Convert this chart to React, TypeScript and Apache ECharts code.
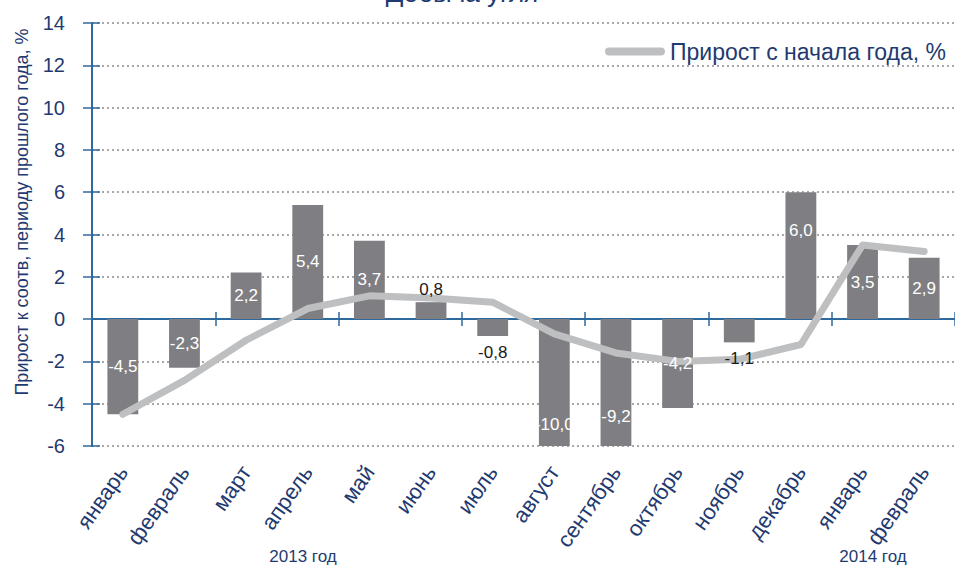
import React, { useEffect, useRef } from "react";
import * as echarts from "echarts";

const months = ["январь", "февраль", "март", "апрель", "май", "июнь", "июль", "август", "сентябрь", "октябрь", "ноябрь", "декабрь", "январь", "февраль"];
const yoyGrowth = [-4.5, -2.3, 2.2, 5.4, 3.7, 0.8, -0.8, -10.0, -9.2, -4.2, -1.1, 6.0, 3.5, 2.9];
const ytdGrowth = [-4.5, -2.9, -1.0, 0.5, 1.1, 1.0, 0.8, -0.7, -1.6, -2.0, -1.9, -1.2, 3.5, 3.2];
const yearLabels = ["2013 год", "2014 год"];
const titleText = "Добыча угля";
const barName = "Прирост к соотв. периоду прошлого года, %";
const lineName = "Прирост с начала года, %";
const yAxisName = "Прирост к соотв, периоду прошлого года, %";
const yMin = -6;
const yMax = 14;
const yStep = 2;

const NAVY = "#1F3A70";
const AXIS = "#2F6A9E";
const BAR = "#7F7F83";
const LINE = "#BEBFC1";
const GRID = "#8C8C8C";
const SANS = "'Liberation Sans', Arial, sans-serif";

const W = 955;
const H = 569;
const G_LEFT = 92;
const G_RIGHT = -5;
const G_TOP = 23;
const G_BOTTOM = 123;

const fmt = (v: number) => v.toFixed(1).replace(".", ",");

export default function App() {
  const ref = useRef<HTMLDivElement>(null);

  useEffect(() => {
    if (!ref.current) return;
    const chart = echarts.init(ref.current, undefined, { renderer: "svg" });
    const pxPerUnit = (H - G_TOP - G_BOTTOM) / (yMax - yMin);

    const labelData = yoyGrowth.map((v, i) => {
      const small = Math.abs(v) < 1.5;
      const label: any = small
        ? { position: v >= 0 ? "top" : "bottom", color: "#1a1a1a", distance: v >= 0 ? 4 : 8 }
        : { position: "inside", color: "#ffffff" };
      if (v < yMin) {
        // bar is clipped at the axis minimum; keep label at center of the full bar
        const fullCenter = v / 2;
        const clippedCenter = yMin / 2;
        label.offset = [0, (clippedCenter - fullCenter) * pxPerUnit];
      }
      if (i === 11) label.offset = [0, -25];
      return { value: v, label };
    });

    const option: any = {
      animation: false,
      grid: { left: G_LEFT, right: G_RIGHT, top: G_TOP, bottom: G_BOTTOM, containLabel: false },
      legend: {
        data: [lineName],
        right: 4,
        top: 35,
        itemWidth: 60,
        itemHeight: 8,
        icon: "path://M4,0 H56 A4,4 0 0 1 56,8 H4 A4,4 0 0 1 4,0 Z",
        textStyle: { color: NAVY, fontSize: 23, fontFamily: SANS },
      },
      xAxis: [
        {
          type: "category",
          data: months,
          position: "bottom",
          axisLine: { show: false, onZero: false },
          axisTick: { show: false },
          axisLabel: { rotate: 55, margin: 22, fontSize: 22, color: NAVY, fontFamily: SANS, interval: 0 },
        },
        {
          type: "category",
          data: months,
          position: "bottom",
          axisLine: { show: true, onZero: true, onZeroAxisIndex: 0, lineStyle: { color: AXIS, width: 2 } },
          axisTick: { show: true, length: 7, lineStyle: { color: AXIS, width: 1.5 } },
          axisLabel: { show: false },
        },
        {
          type: "category",
          data: months,
          position: "top",
          axisLine: { show: false, onZero: true, onZeroAxisIndex: 0 },
          axisTick: { show: true, length: 7, lineStyle: { color: AXIS, width: 1.5 } },
          axisLabel: { show: false },
        },
      ],
      yAxis: [
        {
          type: "value",
          min: yMin,
          max: yMax,
          interval: yStep,
          position: "left",
          axisLine: { show: true, lineStyle: { color: AXIS, width: 2 } },
          axisTick: { show: true, length: 9, lineStyle: { color: AXIS, width: 1.5 } },
          axisLabel: { margin: 27, fontSize: 20, color: NAVY, fontFamily: SANS },
          splitLine: { show: true, lineStyle: { color: GRID, width: 1.5, type: [2, 3] } },
        },
        {
          type: "value",
          min: yMin,
          max: yMax,
          interval: yStep,
          position: "left",
          axisLine: { show: false },
          axisTick: { show: true, inside: true, length: 8, lineStyle: { color: AXIS, width: 1.5 } },
          axisLabel: { show: false },
          splitLine: { show: false },
        },
      ],
      series: [
        {
          name: barName,
          type: "bar",
          xAxisIndex: 0,
          yAxisIndex: 0,
          barWidth: "50%",
          barGap: "-100%",
          itemStyle: { color: BAR },
          data: yoyGrowth,
          z: 2,
        },
        {
          name: lineName,
          type: "line",
          xAxisIndex: 0,
          yAxisIndex: 0,
          symbol: "none",
          data: ytdGrowth,
          lineStyle: { color: LINE, width: 7, cap: "round", join: "round" },
          itemStyle: { color: LINE },
          z: 5,
        },
        {
          name: "labels",
          type: "bar",
          xAxisIndex: 0,
          yAxisIndex: 0,
          barWidth: "50%",
          barGap: "-100%",
          itemStyle: { color: "rgba(0,0,0,0)" },
          label: {
            show: true,
            fontSize: 17,
            fontFamily: SANS,
            formatter: (p: any) => fmt(p.value),
          },
          data: labelData,
          silent: true,
          z: 10,
        },
      ],
      graphic: [
        {
          type: "text",
          x: 462,
          y: 6,
          style: { text: titleText, fill: NAVY, fontSize: 26, fontFamily: SANS, textAlign: "center", textVerticalAlign: "bottom" },
        },
        {
          type: "text",
          x: 22,
          y: 212,
          rotation: Math.PI / 2,
          style: { text: yAxisName, fill: NAVY, fontSize: 18, fontFamily: SANS, textAlign: "center", textVerticalAlign: "middle" },
        },
        {
          type: "text",
          x: 303,
          y: 556,
          style: { text: yearLabels[0], fill: NAVY, fontSize: 17, fontFamily: SANS, textAlign: "center", textVerticalAlign: "middle" },
        },
        {
          type: "text",
          x: 873,
          y: 556,
          style: { text: yearLabels[1], fill: NAVY, fontSize: 17, fontFamily: SANS, textAlign: "center", textVerticalAlign: "middle" },
        },
      ],
    };

    chart.setOption(option);
    return () => chart.dispose();
  }, []);

  return <div ref={ref} style={{ position: "absolute", left: 0, top: 0, width: W, height: H }} />;
}
